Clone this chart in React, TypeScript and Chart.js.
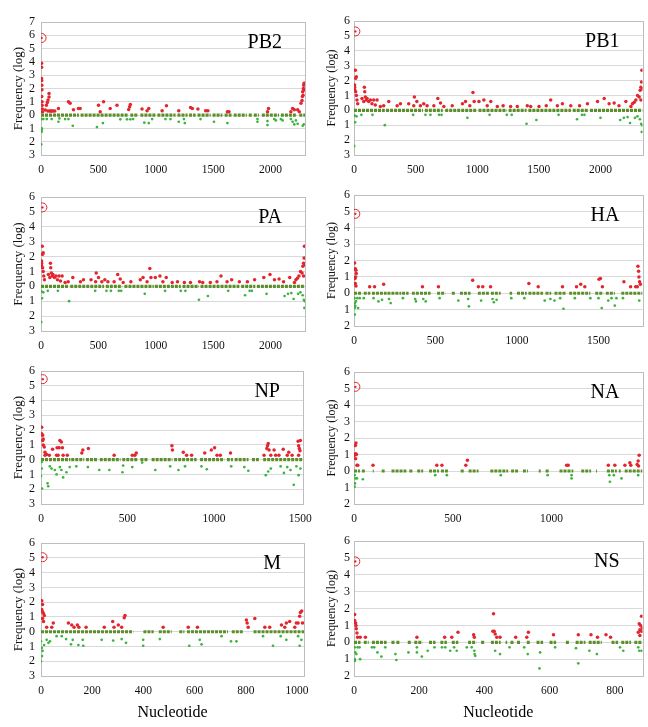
import React, { useEffect, useRef } from 'react';
import { Chart, registerables } from 'chart.js';

Chart.register(...registerables);

const FONT = '"Liberation Serif", "Times New Roman", serif';

type P = [number, number];

// ---------- PB2 ----------
const pb2Peak: P = [5, 5.8];
const pb2Red: P[] = [
  [5, 3.9], [5, 3.6], [5, 2.75], [6, 2.6], [7, 2.25], [8, 1.9], [6, 1.4], [9, 1.0], [10, 0.75], [12, 0.45], [14, 0.25],
  [38, 0.38], [47, 0.75], [55, 0.95], [61, 1.13], [70, 1.37], [70, 1.63], [76, 0.3], [60, 0.3], [85, 0.3], [95, 0.3],
  [105, 0.3], [120, 0.3], [152, 0.5], [239, 1.0], [254, 0.9], [283, 0.4], [326, 0.5], [341, 0.5], [501, 0.75],
  [545, 1.0], [516, 0.25], [603, 0.5], [662, 0.75], [778, 0.8], [772, 0.62], [764, 0.43], [880, 0.45], [924, 0.32],
  [939, 0.5], [1055, 0.32], [1093, 0.7], [1200, 0.32], [1303, 0.58], [1318, 0.5], [1367, 0.45], [1434, 0.32],
  [1454, 0.32], [1624, 0.25], [1638, 0.25], [1973, 0.25], [1982, 0.5], [2177, 0.25], [2192, 0.5], [2207, 0.4],
  [2236, 0.4], [2250, 0.25], [2265, 0.9], [2274, 1.1], [2280, 1.75], [2286, 2.0], [2289, 2.25], [2292, 2.4],
  [2283, 1.5], [2277, 1.4], [2289, 1.9],
];
const pb2Green: P[] = [
  [6, -0.3], [6, -1.0], [6, -1.25], [2, -2.2], [7, -1.1], [20, -0.3], [50, -0.3], [93, -0.3], [152, -0.5], [160, -0.25],
  [210, -0.3], [239, -0.3], [277, -0.8], [487, -0.9], [539, -0.6], [691, -0.32], [749, -0.32], [778, -0.32], [802, -0.3],
  [900, -0.57], [939, -0.6], [968, -0.3], [1084, -0.3], [1128, -0.3], [1200, -0.5], [1245, -0.3], [1253, -0.6],
  [1390, -0.3], [1507, -0.5], [1624, -0.6], [1886, -0.3], [1886, -0.5], [1973, -0.75], [1973, -0.45], [2032, -0.3],
  [2046, -0.4], [2090, -0.3], [2105, -0.4], [2177, -0.3], [2192, -0.5], [2207, -0.7], [2221, -0.4], [2236, -0.65],
  [2280, -0.8], [2289, -0.7],
];
const pb2ZeroRuns: P[] = [
  [0, 330], [345, 760], [778, 848], [866, 997], [1014, 1172], [1189, 1277], [1290, 1347], [1364, 1478], [1495, 1580],
  [1600, 1660], [1679, 1793], [1810, 1836], [1854, 1898], [1924, 2073], [2090, 2230], [2250, 2300],
];

// ---------- PB1 ----------
const pb1Peak: P = [11, 5.3];
const pb1Red: P[] = [
  [11, 2.7], [19, 2.25], [14, 2.15], [5, 1.7], [5, 1.55], [5, 1.4], [14, 1.25], [19, 1.0], [24, 0.7], [30, 0.45],
  [65, 0.8], [79, 0.6], [84, 1.55], [87, 1.25], [92, 0.9], [100, 0.7], [106, 0.8], [119, 0.6], [133, 0.7], [146, 0.45],
  [160, 0.7], [173, 0.35], [187, 0.7], [214, 0.25], [241, 0.3], [282, 0.6], [350, 0.3], [377, 0.45], [444, 0.45],
  [485, 0.3], [490, 0.9], [510, 0.6], [539, 0.3], [566, 0.45], [593, 0.3], [648, 0.3], [680, 0.8], [702, 0.5],
  [729, 0.25], [797, 0.3], [880, 0.45], [905, 0.6], [940, 0.3], [965, 1.2], [975, 0.6], [1014, 0.6], [1054, 0.7],
  [1081, 0.3], [1110, 0.6], [1163, 0.25], [1210, 0.3], [1271, 0.25], [1325, 0.25], [1406, 0.3], [1434, 0.25],
  [1501, 0.25], [1560, 0.3], [1596, 0.7], [1650, 0.3], [1691, 0.45], [1759, 0.3], [1830, 0.3], [1894, 0.45],
  [1976, 0.6], [2030, 0.8], [2070, 0.45], [2111, 0.5], [2150, 0.3], [2206, 0.6], [2247, 0.25], [2260, 0.45],
  [2274, 0.55], [2287, 0.7], [2301, 1.0], [2314, 0.9], [2322, 1.35], [2328, 1.55], [2333, 1.9], [2336, 2.7],
  [2328, 0.7], [2341, 1.45],
];
const pb1Green: P[] = [
  [5, -0.35], [10, -0.8], [2, -2.4], [20, -0.4], [60, -0.3], [150, -0.3], [250, -1.0], [480, -0.3], [580, -0.3],
  [620, -0.3], [690, -0.3], [710, -0.3], [920, -0.5], [1100, -0.3], [1240, -0.3], [1280, -0.3], [1400, -0.9],
  [1480, -0.65], [1660, -0.3], [1810, -0.6], [1850, -0.3], [1870, -0.3], [2000, -0.5], [2160, -0.65], [2190, -0.5],
  [2220, -0.45], [2240, -0.85], [2280, -0.5], [2300, -0.4], [2320, -0.6], [2330, -0.9], [2335, -1.45], [2338, -1.0],
];
const pb1ZeroRuns: P[] = [
  [0, 250], [260, 560], [575, 720], [740, 1000], [1010, 1240], [1255, 1400], [1415, 1760], [1775, 1900], [1915, 2341],
];

// ---------- PA ----------
const paPeak: P = [12, 5.3];
const paRed: P[] = [
  [11, 2.7], [19, 2.25], [14, 2.15], [5, 1.7], [5, 1.55], [5, 1.4], [14, 1.25], [19, 1.0], [24, 0.7], [30, 0.45],
  [64, 0.8], [77, 0.6], [82, 1.55], [85, 1.25], [90, 0.9], [98, 0.7], [104, 0.8], [117, 0.6], [130, 0.7], [143, 0.45],
  [157, 0.7], [170, 0.35], [184, 0.7], [210, 0.25], [237, 0.3], [277, 0.6], [344, 0.3], [370, 0.45], [436, 0.45],
  [476, 0.3], [481, 0.9], [501, 0.6], [530, 0.3], [556, 0.45], [583, 0.3], [637, 0.3], [668, 0.8], [690, 0.5],
  [716, 0.25], [783, 0.3], [865, 0.45], [889, 0.6], [924, 0.3], [948, 1.2], [958, 0.6], [996, 0.6], [1036, 0.7],
  [1062, 0.3], [1091, 0.6], [1143, 0.25], [1189, 0.3], [1249, 0.25], [1302, 0.25], [1381, 0.3], [1409, 0.25],
  [1475, 0.25], [1533, 0.3], [1568, 0.7], [1621, 0.3], [1661, 0.45], [1728, 0.3], [1798, 0.3], [1861, 0.45],
  [1941, 0.6], [1995, 0.8], [2034, 0.45], [2074, 0.5], [2113, 0.3], [2167, 0.6], [2208, 0.25], [2221, 0.45],
  [2234, 0.55], [2247, 0.7], [2261, 1.0], [2274, 0.9], [2281, 1.35], [2287, 1.55], [2292, 1.9], [2295, 2.7],
  [2287, 0.7], [2298, 1.45],
];
const paGreen: P[] = [
  [5, -0.35], [10, -0.8], [2, -2.4], [20, -0.4], [59, -0.3], [147, -0.3], [245, -1.0], [472, -0.3], [570, -0.3],
  [609, -0.3], [678, -0.3], [698, -0.3], [904, -0.5], [1081, -0.3], [1218, -0.3], [1258, -0.3], [1376, -0.9],
  [1454, -0.65], [1631, -0.3], [1778, -0.6], [1818, -0.3], [1837, -0.3], [1965, -0.5], [2122, -0.65], [2152, -0.5],
  [2181, -0.45], [2201, -0.85], [2240, -0.5], [2260, -0.4], [2280, -0.6], [2290, -0.9], [2295, -1.45], [2298, -1.0],
];
const paZeroRuns: P[] = [
  [0, 245], [255, 550], [565, 707], [727, 983], [992, 1218], [1233, 1376], [1390, 1728], [1744, 1867], [1881, 2300],
];

// ---------- HA ----------
const haPeak: P = [8, 4.85];
const haRed: P[] = [
  [4, 1.85], [8, 1.5], [12, 1.4], [14, 1.2], [10, 1.0], [6, 0.9], [8, 0.6], [12, 0.45], [96, 0.4], [126, 0.4],
  [182, 0.55], [420, 0.4], [518, 0.4], [728, 0.8], [763, 0.4], [790, 0.4], [838, 0.4], [1073, 0.6], [1130, 0.4],
  [1279, 0.4], [1365, 0.4], [1391, 0.55], [1416, 0.4], [1503, 0.85], [1512, 0.9], [1524, 0.4], [1656, 0.7],
  [1697, 0.4], [1728, 0.4], [1742, 1.65], [1746, 1.35], [1748, 1.0], [1752, 0.7], [1757, 0.55], [1738, 0.4],
];
const haGreen: P[] = [
  [3, -0.3], [5, -0.6], [6, -0.75], [4, -0.9], [5, -1.3], [8, -0.8], [12, -0.5], [20, -0.3], [25, -0.9], [35, -0.3],
  [60, -0.3], [120, -0.3], [150, -0.5], [172, -0.4], [215, -0.35], [225, -0.6], [300, -0.3], [375, -0.35],
  [380, -0.5], [425, -0.35], [440, -0.5], [525, -0.3], [640, -0.45], [700, -0.35], [705, -0.8], [780, -0.45],
  [850, -0.35], [858, -0.55], [875, -0.4], [965, -0.3], [1045, -0.3], [1170, -0.45], [1205, -0.35], [1230, -0.45],
  [1265, -0.3], [1285, -0.95], [1355, -0.3], [1450, -0.3], [1500, -0.3], [1520, -0.9], [1560, -0.45], [1580, -0.3],
  [1600, -0.75], [1610, -0.3], [1650, -0.3], [1750, -0.45],
];
const haZeroRuns: P[] = [
  [0, 50], [60, 100], [110, 200], [205, 290], [295, 335], [355, 400], [405, 470], [510, 560], [600, 620], [650, 715],
  [760, 830], [840, 900], [955, 970], [1000, 1060], [1070, 1160], [1175, 1210], [1230, 1300], [1320, 1450],
  [1480, 1530], [1545, 1600], [1640, 1770],
];

// ---------- NP ----------
const npPeak: P = [10, 5.45];
const npRed: P[] = [
  [4, 2.2], [4, 1.75], [10, 1.65], [13, 1.4], [10, 1.3], [13, 1.0], [19, 0.85], [23, 0.5], [23, 0.3], [32, 0.35],
  [48, 0.3], [67, 0.7], [90, 0.3], [93, 0.8], [105, 0.8], [109, 1.3], [118, 1.2], [124, 0.8], [99, 0.3], [128, 0.3],
  [152, 0.3], [236, 0.45], [242, 0.65], [274, 0.75], [423, 0.3], [528, 0.3], [543, 0.3], [551, 0.45], [757, 0.95],
  [760, 0.65], [823, 0.5], [842, 0.3], [871, 0.3], [947, 0.45], [985, 0.65], [1004, 0.8], [1018, 0.3], [1037, 0.3],
  [1096, 0.45], [1290, 0.3], [1306, 0.75], [1310, 0.95], [1314, 1.1], [1319, 0.65], [1329, 0.3], [1348, 0.65],
  [1357, 0.3], [1376, 0.3], [1401, 0.7], [1424, 0.3], [1433, 0.5], [1452, 0.3], [1487, 1.25], [1490, 0.95],
  [1494, 0.75], [1498, 0.6], [1490, 0.3], [1500, 1.3],
];
const npGreen: P[] = [
  [4, -0.15], [4, -0.6], [0, -1.1], [6, -1.95], [38, -1.6], [42, -1.8], [51, -0.45], [61, -0.6], [80, -0.7],
  [90, -1.0], [109, -0.5], [118, -0.7], [128, -1.2], [147, -0.85], [166, -0.5], [204, -0.45], [271, -0.5],
  [337, -0.7], [395, -0.7], [471, -0.85], [475, -0.4], [528, -0.5], [585, -0.2], [661, -0.7], [747, -0.45],
  [795, -0.7], [833, -0.45], [928, -0.45], [959, -0.65], [1100, -0.45], [1176, -0.5], [1199, -0.75], [1300, -1.05],
  [1314, -0.8], [1329, -0.6], [1386, -0.45], [1405, -0.9], [1424, -0.5], [1443, -0.7], [1462, -1.7], [1477, -0.45],
  [1490, -1.05], [1500, -0.6],
];
const npZeroRuns: P[] = [
  [0, 170], [175, 250], [260, 330], [340, 460], [470, 560], [575, 620], [640, 760], [770, 900], [920, 1060],
  [1075, 1110], [1120, 1200], [1220, 1260], [1285, 1515],
];

// ---------- NA ----------
const naPeak: P = [7, 5.1];
const naRed: P[] = [
  [7, 1.55], [10, 1.7], [8, 1.05], [3, 0.95], [12, 1.0], [8, 0.75], [15, 0.35], [19, 0.35], [96, 0.35], [419, 0.35],
  [445, 0.35], [566, 0.35], [574, 0.65], [1076, 0.35], [1084, 0.35], [1287, 0.35], [1320, 0.35], [1371, 0.35],
  [1396, 0.5], [1401, 0.35], [1433, 0.4], [1438, 0.6], [1443, 0.95], [1440, 0.3],
];
const naGreen: P[] = [
  [3, -0.25], [7, -0.45], [5, -0.75], [3, -0.95], [15, -0.45], [45, -0.5], [411, -0.25], [470, -0.25], [743, -0.25],
  [980, -0.25], [1101, -0.25], [1101, -0.45], [1292, -0.25], [1295, -0.65], [1315, -0.25], [1354, -0.45],
  [1438, -0.25],
];
const naZeroRuns: P[] = [
  [0, 30], [40, 55], [95, 100], [140, 160], [190, 265], [280, 300], [320, 350], [380, 430], [440, 480], [540, 560],
  [580, 630], [690, 780], [795, 830], [855, 880], [935, 945], [970, 990], [1040, 1110], [1150, 1200], [1225, 1230],
  [1280, 1330], [1340, 1350], [1370, 1460],
];

// ---------- M ----------
const mPeak: P = [6, 5.05];
const mRed: P[] = [
  [3, 2.1], [6, 1.85], [3, 1.5], [6, 1.35], [9, 1.25], [13, 1.1], [6, 0.9], [10, 0.7], [22, 0.3], [42, 0.3],
  [48, 0.6], [107, 0.6], [120, 0.45], [129, 0.3], [142, 0.45], [148, 0.3], [176, 0.3], [247, 0.3], [280, 0.7],
  [285, 0.3], [302, 0.45], [315, 0.3], [325, 0.95], [328, 1.1], [477, 0.3], [575, 0.3], [611, 0.3], [802, 0.8],
  [805, 0.6], [809, 0.3], [835, 0.9], [874, 0.3], [893, 0.3], [939, 0.45], [952, 0.3], [958, 0.6], [971, 0.7],
  [991, 0.3], [997, 0.6], [1004, 0.6], [1010, 1.05], [1013, 1.3], [1018, 1.4], [1021, 0.6],
];
const mGreen: P[] = [
  [0, -0.65], [3, -1.1], [0, -2.0], [4, -1.65], [6, -1.3], [12, -0.9], [22, -0.55], [29, -0.75], [35, -0.65],
  [61, -0.3], [81, -0.3], [98, -0.5], [117, -0.85], [124, -0.55], [146, -0.9], [163, -0.55], [165, -0.95],
  [237, -0.55], [282, -0.6], [315, -0.5], [332, -0.75], [399, -0.55], [399, -0.95], [464, -0.5], [579, -0.95],
  [620, -0.55], [627, -0.85], [705, -0.3], [742, -0.65], [763, -0.65], [867, -0.3], [906, -0.95], [936, -0.3],
  [958, -0.55], [1004, -0.3], [1010, -0.95], [1017, -0.55],
];
const mZeroRuns: P[] = [
  [0, 360], [400, 440], [460, 510], [540, 560], [570, 730], [745, 790], [830, 1027],
];

// ---------- NS ----------
const nsPeak: P = [4, 4.8];
const nsRed: P[] = [
  [2, 1.65], [2, 1.3], [5, 1.15], [6, 1.0], [7, 0.8], [9, 0.55], [11, 0.3], [19, 0.3], [35, 0.3], [193, 0.3],
  [278, 0.3], [300, 0.3], [319, 0.6], [367, 0.45], [369, 0.3], [428, 1.7], [426, 0.65], [430, 0.65], [433, 0.5],
  [438, 0.3], [448, 0.3], [496, 0.3], [530, 0.3], [535, 0.6], [612, 0.45], [688, 0.45], [727, 0.45], [747, 0.3],
  [773, 0.45], [787, 0.3], [882, 1.55], [875, 1.1], [879, 1.0], [877, 0.75], [882, 0.65], [884, 0.85], [872, 0.6],
  [877, 0.4],
];
const nsGreen: P[] = [
  [2, -0.3], [4, -0.6], [2, -1.0], [3, -1.1], [7, -0.7], [11, -0.3], [17, -0.3], [19, -1.0], [55, -0.3], [62, -0.3],
  [72, -0.6], [84, -0.85], [96, -0.3], [127, -0.7], [130, -1.05], [167, -0.6], [193, -0.3], [193, -0.6], [208, -0.85],
  [226, -0.5], [247, -0.3], [270, -0.3], [280, -0.3], [295, -0.5], [307, -0.3], [315, -0.5], [346, -0.3], [361, -0.3],
  [369, -0.5], [370, -0.7], [372, -0.8], [433, -0.5], [448, -0.7], [477, -0.3], [522, -0.3], [533, -0.7],
  [569, -1.55], [571, -0.6], [617, -0.3], [681, -0.35], [688, -1.25], [722, -0.5], [745, -0.7], [816, -0.3],
  [826, -0.5], [872, -0.3], [875, -0.5], [882, -0.5],
];
const nsZeroRuns: P[] = [
  [0, 20], [30, 45], [55, 100], [115, 125], [130, 140], [165, 175], [185, 210], [230, 250], [265, 285], [300, 320],
  [350, 375], [390, 400], [420, 450], [465, 470], [480, 490], [500, 510], [530, 540], [560, 580], [600, 620],
  [650, 660], [680, 710], [720, 760], [790, 810], [820, 850], [860, 885],
];

// ---------- tick labels ----------
const ticks500 = [0, 500, 1000, 1500, 2000];
const ticks200 = [0, 200, 400, 600, 800, 1000];

// ---------- panel configuration ----------
type Box = { x: number; y: number; w: number; h: number };
type Plot = { left: number; right: number; top: number; bottom: number };
type PanelCfg = {
  name: string; peak: P; red: P[]; green: P[]; zero: P[];
  yMin: number; yMax: number; xMax: number; xTicks: number[];
  box: Box; plot: Plot; col: number; xTitle: boolean;
};

const COL = [{ x: 0, w: 320 }, { x: 320, w: 328 }];
const ROW = [{ y: 0, h: 180 }, { y: 180, h: 175 }, { y: 355, h: 175 }, { y: 530, h: 197 }];
const bx = (c: number, r: number): Box => ({ x: COL[c].x, y: ROW[r].y, w: COL[c].w, h: ROW[r].h });

const PANELS: PanelCfg[] = [
  { name: 'PB2', peak: pb2Peak, red: pb2Red, green: pb2Green, zero: pb2ZeroRuns, yMin: -3, yMax: 7, xMax: 2300, xTicks: ticks500, box: bx(0, 0), plot: { left: 41, right: 305, top: 22, bottom: 155 }, col: 0, xTitle: false },
  { name: 'PB1', peak: pb1Peak, red: pb1Red, green: pb1Green, zero: pb1ZeroRuns, yMin: -3, yMax: 6, xMax: 2341, xTicks: ticks500, box: bx(1, 0), plot: { left: 354, right: 643, top: 21, bottom: 155 }, col: 1, xTitle: false },
  { name: 'PA', peak: paPeak, red: paRed, green: paGreen, zero: paZeroRuns, yMin: -3, yMax: 6, xMax: 2300, xTicks: ticks500, box: bx(0, 1), plot: { left: 41, right: 305, top: 197, bottom: 331 }, col: 0, xTitle: false },
  { name: 'HA', peak: haPeak, red: haRed, green: haGreen, zero: haZeroRuns, yMin: -2, yMax: 6, xMax: 1770, xTicks: ticks500, box: bx(1, 1), plot: { left: 354, right: 643, top: 195, bottom: 326 }, col: 1, xTitle: false },
  { name: 'NP', peak: npPeak, red: npRed, green: npGreen, zero: npZeroRuns, yMin: -3, yMax: 6, xMax: 1515, xTicks: ticks500, box: bx(0, 2), plot: { left: 41, right: 306, top: 371, bottom: 504 }, col: 0, xTitle: false },
  { name: 'NA', peak: naPeak, red: naRed, green: naGreen, zero: naZeroRuns, yMin: -2, yMax: 6, xMax: 1460, xTicks: ticks500, box: bx(1, 2), plot: { left: 354, right: 643, top: 372, bottom: 504 }, col: 1, xTitle: false },
  { name: 'M', peak: mPeak, red: mRed, green: mGreen, zero: mZeroRuns, yMin: -3, yMax: 6, xMax: 1027, xTicks: ticks200, box: bx(0, 3), plot: { left: 41, right: 304, top: 542, bottom: 676 }, col: 0, xTitle: true },
  { name: 'NS', peak: nsPeak, red: nsRed, green: nsGreen, zero: nsZeroRuns, yMin: -2, yMax: 6, xMax: 885, xTicks: ticks200, box: bx(1, 3), plot: { left: 354, right: 643, top: 540, bottom: 676 }, col: 1, xTitle: true },
];

const RED = '#e3262e';
const GREEN = '#3db43d';
const ZERO = '#5b8f2a';

function Panel({ p }: { p: PanelCfg }) {
  const ref = useRef<HTMLCanvasElement>(null);
  useEffect(() => {
    const canvas = ref.current;
    if (!canvas) return;
    const toXY = (arr: P[]) => arr.map(([x, y]) => ({ x, y }));
    const zeroData: { x: number; y: number | null }[] = [];
    p.zero.forEach(([a, b]) => {
      zeroData.push({ x: a, y: 0 }, { x: b, y: 0 }, { x: b, y: null });
    });
    const xTickVals = p.xTicks.filter((v) => v <= p.xMax);
    const yTickVals: number[] = [];
    for (let v = p.yMin; v <= p.yMax; v++) yTickVals.push(v);
    const overlay = {
      id: 'overlay' + p.name,
      beforeDatasetsDraw(chart: any) {
        const { ctx, chartArea: a } = chart;
        ctx.save();
        ctx.strokeStyle = '#bdbdbd';
        ctx.lineWidth = 1;
        ctx.strokeRect(Math.round(a.left) + 0.5, Math.round(a.top) + 0.5, Math.round(a.right - a.left), Math.round(a.bottom - a.top));
        ctx.restore();
      },
      afterDraw(chart: any) {
        const { ctx, chartArea: a } = chart;
        ctx.save();
        ctx.fillStyle = '#000';
        ctx.font = `20px ${FONT}`;
        ctx.textAlign = 'right';
        ctx.textBaseline = 'middle';
        ctx.fillText(p.name, a.right - 23, a.top + 21);
        ctx.translate(a.left - 22, (a.top + a.bottom) / 2);
        ctx.rotate(-Math.PI / 2);
        ctx.textAlign = 'center';
        ctx.font = `${p.col === 0 ? 13 : 12}px ${FONT}`;
        ctx.fillStyle = '#111';
        ctx.fillText('Frequency (log)', 0, 0);
        ctx.restore();
        if (p.xTitle) {
          ctx.save();
          ctx.fillStyle = '#000';
          ctx.font = `16px ${FONT}`;
          ctx.textAlign = 'center';
          ctx.textBaseline = 'middle';
          ctx.fillText('Nucleotide', (a.left + a.right) / 2, a.bottom + 37);
          ctx.restore();
        }
      },
    };
    const chart = new Chart(canvas, {
      type: 'scatter',
      data: {
        datasets: [
          { data: [{ x: p.peak[0], y: p.peak[1] }], pointStyle: 'circle', pointRadius: 4.5, borderColor: RED, backgroundColor: 'rgba(0,0,0,0)', borderWidth: 1, order: 0 } as any,
          { data: [{ x: p.peak[0], y: p.peak[1] }], pointRadius: 1.2, backgroundColor: RED, borderWidth: 0, order: 0 },
          { data: toXY(p.red), pointRadius: 1.75, backgroundColor: RED, borderWidth: 0, order: 1 },
          { data: toXY(p.green), pointRadius: 1.35, backgroundColor: GREEN, borderWidth: 0, order: 2 },
          { data: zeroData, showLine: true, pointRadius: 0, borderColor: ZERO, borderWidth: 3.2, borderDash: [3, 1], spanGaps: false, order: 3 } as any,
        ],
      },
      options: {
        animation: false,
        responsive: false,
        events: [],
        layout: {
          padding: { top: p.plot.top - p.box.y, right: p.box.x + p.box.w - p.plot.right, left: 0, bottom: 0 },
        },
        plugins: { legend: { display: false }, tooltip: { enabled: false } },
        scales: {
          x: {
            type: 'linear', min: 0, max: p.xMax,
            grid: { display: false, drawTicks: false },
            border: { display: false },
            ticks: { padding: 8, maxRotation: 0, minRotation: 0, autoSkip: false, includeBounds: false, color: '#111', font: { family: FONT, size: 11.5 }, callback: (v: any) => String(v) },
            afterBuildTicks: (s: any) => { s.ticks = xTickVals.map((v) => ({ value: v })); },
            afterFit: (s: any) => { s.height = p.box.y + p.box.h - p.plot.bottom; },
          },
          y: {
            type: 'linear', min: p.yMin, max: p.yMax,
            grid: { color: '#d9d9d9', drawTicks: false },
            border: { display: false },
            ticks: { autoSkip: false, padding: p.col === 0 ? 6 : 4, color: '#111', font: { family: FONT, size: 12 }, callback: (v: any) => String(Math.abs(Number(v))) },
            afterBuildTicks: (s: any) => { s.ticks = yTickVals.map((v) => ({ value: v })); },
            afterFit: (s: any) => { s.width = p.plot.left - p.box.x; },
          },
        },
      } as any,
      plugins: [overlay],
    });
    return () => chart.destroy();
  }, [p]);
  return (
    <canvas
      ref={ref}
      width={p.box.w}
      height={p.box.h}
      style={{ position: 'absolute', left: p.box.x, top: p.box.y, width: p.box.w, height: p.box.h }}
    />
  );
}

export default function App() {
  return (
    <div style={{ position: 'absolute', left: 0, top: 0, width: 648, height: 727, background: '#fff' }}>
      {PANELS.map((p) => (
        <Panel key={p.name} p={p} />
      ))}
    </div>
  );
}
